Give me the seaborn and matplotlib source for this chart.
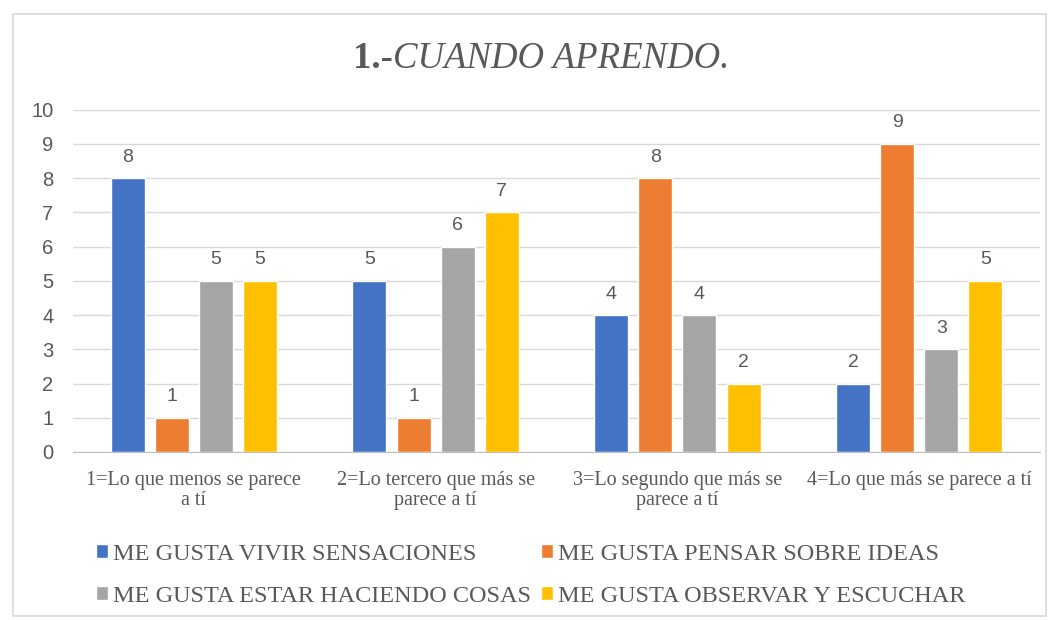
import numpy as np
import pandas as pd
import matplotlib
matplotlib.use('Agg')
import matplotlib.pyplot as plt
import seaborn as sns
from matplotlib.patches import Rectangle

# DATA
categorias = ['1=Lo que menos se parece\na tí',
              '2=Lo tercero que más se\nparece a tí',
              '3=Lo segundo que más se\nparece a tí',
              '4=Lo que más se parece a tí']
series = ['ME GUSTA VIVIR SENSACIONES',
          'ME GUSTA PENSAR SOBRE IDEAS',
          'ME GUSTA ESTAR HACIENDO COSAS',
          'ME GUSTA OBSERVAR Y ESCUCHAR']
vivir = [8, 5, 4, 2]
pensar = [1, 1, 8, 9]
hacer = [5, 6, 4, 3]
observar = [5, 7, 2, 5]
y_ticks = list(range(0, 11))

colores = ['#4472C4', '#ED7D31', '#A5A5A5', '#FFC000']
gris_txt = '#595959'
serif = 'Liberation Serif'
sans = 'Liberation Sans'

df = pd.DataFrame({
    'categoria': categorias * 4,
    'serie': np.repeat(series, len(categorias)),
    'valor': vivir + pensar + hacer + observar,
})

sns.set_style('white')
plt.rcParams['font.family'] = [sans, 'DejaVu Sans']

fig = plt.figure(figsize=(10.56, 6.2), dpi=100)
ax = fig.add_axes([0.069, 0.271, 0.916, 0.552])

sns.barplot(data=df, x='categoria', y='valor', hue='serie', order=categorias,
            hue_order=series, palette=colores, width=0.73, gap=0.23,
            saturation=1, ax=ax, legend=True)

for cont in ax.containers:
    ax.bar_label(cont, fmt='%.0f', padding=9, fontsize=14, color=gris_txt)

ax.set_ylim(0, 10)
ax.set_yticks(y_ticks)
ax.set_xlim(-0.5, len(categorias) - 0.5)
ax.yaxis.grid(True, color='#D9D9D9', linewidth=1)
ax.set_axisbelow(True)
ax.set_xlabel('')
ax.set_ylabel('')
ax.tick_params(axis='y', length=0, pad=14, labelsize=14.5, labelcolor=gris_txt)
ax.tick_params(axis='x', length=0, pad=14, labelcolor=gris_txt)
for lab in ax.get_xticklabels():
    lab.set_fontfamily(serif)
    lab.set_fontsize(14.5)
    lab.set_linespacing(1.05)

for s in ['top', 'right', 'left']:
    ax.spines[s].set_visible(False)
ax.spines['bottom'].set_color('#BFBFBF')

# Legend (row-wise order, like the original)
handles, labels = ax.get_legend_handles_labels()
ax.legend_.remove()
idx = [0, 2, 1, 3]
fig.legend([handles[i] for i in idx], [labels[i] for i in idx],
           loc='upper left', bbox_to_anchor=(0.070, 0.158),
           ncol=2, frameon=False, handlelength=0.5, handleheight=0.5,
           handletextpad=0.2, columnspacing=0.4, labelspacing=0.85,
           prop={'family': serif, 'size': 17.5}, labelcolor=gris_txt)

# Title
fig.text(0.372, 0.905, '1.-', ha='right', va='center', fontsize=26.5,
         fontweight='bold', family=serif, color=gris_txt)
fig.text(0.372, 0.905, 'CUANDO APRENDO.', ha='left', va='center', fontsize=26.5,
         style='italic', family=serif, color=gris_txt)

# chart border
fig.patches.append(Rectangle((0.012, 0.007), 0.979, 0.971, transform=fig.transFigure,
                             fill=False, edgecolor='#D9D9D9', linewidth=1.2))

fig.savefig('out.png', dpi=100)
